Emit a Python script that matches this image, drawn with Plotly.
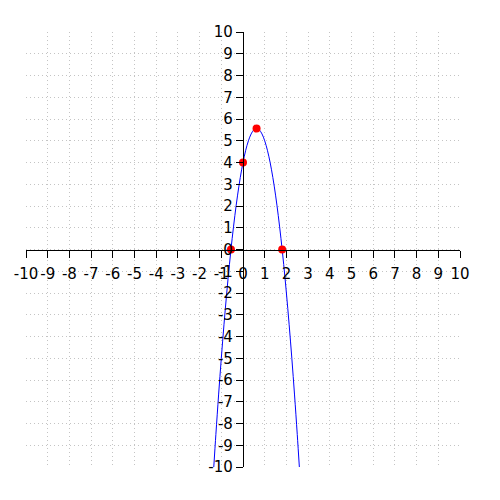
import plotly.graph_objects as go

# curve samples (parabola through the red points)
curve_x = [-1.347, -1.25, -1.125, -1.0, -0.875, -0.75, -0.625, -0.5, -0.375,
           -0.25, -0.125, 0.0, 0.125, 0.25, 0.375, 0.5, 0.625, 0.75, 0.875,
           1.0, 1.125, 1.25, 1.375, 1.5, 1.625, 1.75, 1.875, 2.0, 2.125,
           2.25, 2.375, 2.5, 2.597]
curve_y = [-10.0, -8.5, -6.6875, -5.0, -3.4375, -2.0, -0.6875, 0.5, 1.5625,
           2.5, 3.3125, 4.0, 4.5625, 5.0, 5.3125, 5.5, 5.5625, 5.5, 5.3125,
           5.0, 4.5625, 4.0, 3.3125, 2.5, 1.5625, 0.5, -0.6875, -2.0, -3.4375,
           -5.0, -6.6875, -8.5, -10.0]

# marked points: roots, y-intercept, vertex
pts_x = [-0.554, 0.0, 0.625, 1.804]
pts_y = [0.0, 4.0, 5.5625, 0.0]

ticks = list(range(-10, 11))

fig = go.Figure()
fig.add_trace(go.Scatter(
    x=curve_x, y=curve_y, mode="lines",
    line=dict(color="#0000ff", width=1, shape="spline"),
    showlegend=False,
))
fig.add_trace(go.Scatter(
    x=pts_x, y=pts_y, mode="markers",
    marker=dict(color="#ff0000", size=8),
    showlegend=False,
))

axis_style = dict(
    range=[-10, 10],
    tickmode="array",
    tickvals=ticks,
    ticktext=[str(t) for t in ticks],
    tickangle=0,
    showgrid=True,
    gridcolor="#c4c4c4",
    griddash="1px,3px",
    gridwidth=1,
    zeroline=False,
    showline=True,
    linecolor="black",
    linewidth=1.3,
    ticks="outside",
    ticklen=7,
    tickcolor="black",
    tickwidth=1.3,
    tickfont=dict(family="DejaVu Sans", size=15, color="black"),
    anchor="free",
    position=0.5,
)

# page body adds an 8px offset, margins account for it
fig.update_layout(
    width=500,
    height=500,
    margin=dict(l=18, r=48, t=24, b=41, autoexpand=False),
    plot_bgcolor="#ffffff",
    paper_bgcolor="#ffffff",
    xaxis=dict(axis_style, ticklabelstandoff=3),
    yaxis=axis_style,
)

fig.write_html("out.html")
